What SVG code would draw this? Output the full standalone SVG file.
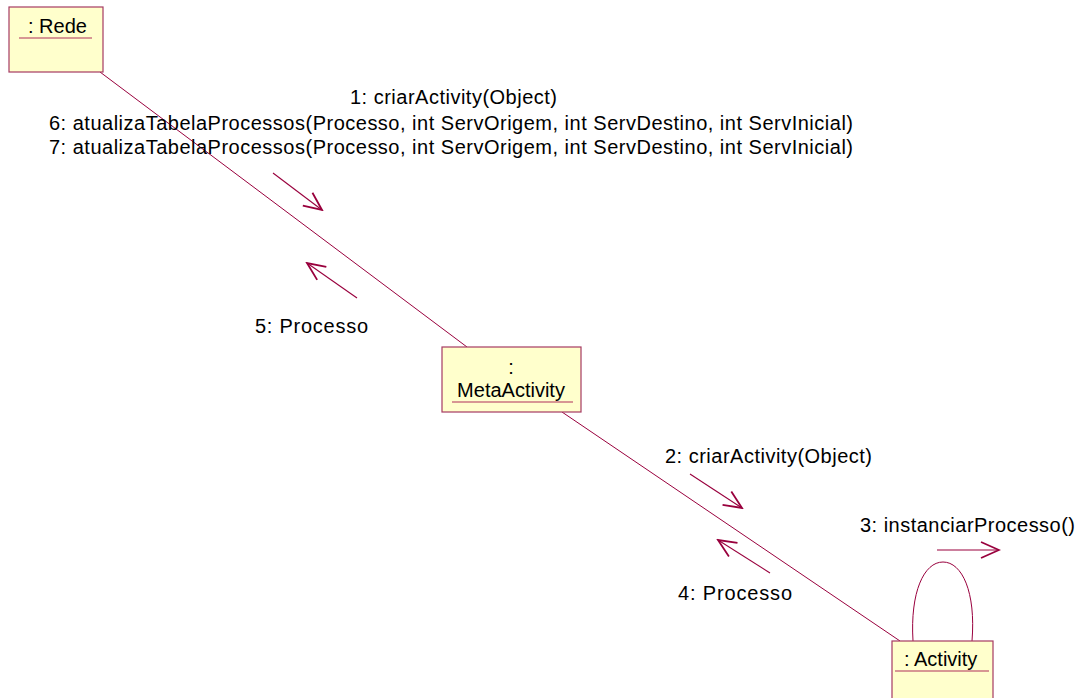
<svg xmlns="http://www.w3.org/2000/svg" width="1087" height="698" viewBox="0 0 1087 698">
  <style>
    .obj { fill: #ffffcc; stroke: #a63a62; stroke-width: 1.2; }
    .uline { stroke: #b0305a; stroke-width: 1.2; }
    .link { stroke: #99003d; stroke-width: 1; fill: none; }
    .msg { stroke: #99003d; stroke-width: 1.1; fill: none; }
    text { font-family: "Liberation Sans", Arial, sans-serif; font-size: 20px; fill: #000; }
  </style>
  <defs>
    <marker id="open" markerUnits="userSpaceOnUse" viewBox="-22 -12 24 24" markerWidth="24" markerHeight="24" refX="0" refY="0" orient="auto">
      <path d="M-18,-8 L0,0 L-18,8" fill="none" stroke="#99003d" stroke-width="1.8"/>
    </marker>
  </defs>

  <rect width="1087" height="698" fill="#ffffff"/>

  <!-- links between objects -->
  <g id="connectors">
    <line class="link" x1="100" y1="72" x2="467" y2="347"/>
    <line class="link" x1="562" y1="412" x2="900" y2="641"/>
    <path class="link" d="M913,641 C910,592 924,562 943,562 C962,562 976,592 972,641"/>
  </g>

  <!-- message arrows -->
  <g id="messages">
    <line class="msg" x1="273" y1="173" x2="322" y2="210" marker-end="url(#open)"/>
    <line class="msg" x1="357" y1="298" x2="307" y2="263" marker-end="url(#open)"/>
    <line class="msg" x1="690" y1="474" x2="742" y2="508" marker-end="url(#open)"/>
    <line class="msg" x1="770" y1="573" x2="718" y2="540" marker-end="url(#open)"/>
    <line class="msg" x1="937" y1="550" x2="999" y2="550" marker-end="url(#open)"/>
  </g>

  <!-- message labels -->
  <g id="labels">
    <text x="350" y="104" textLength="207" lengthAdjust="spacing">1: criarActivity(Object)</text>
    <text x="49" y="130" textLength="804" lengthAdjust="spacing">6: atualizaTabelaProcessos(Processo, int ServOrigem, int ServDestino, int ServInicial)</text>
    <text x="49" y="154" textLength="804" lengthAdjust="spacing">7: atualizaTabelaProcessos(Processo, int ServOrigem, int ServDestino, int ServInicial)</text>
    <text x="255" y="333" textLength="113" lengthAdjust="spacing">5: Processo</text>
    <text x="665" y="463" textLength="207" lengthAdjust="spacing">2: criarActivity(Object)</text>
    <text x="860" y="532" textLength="215" lengthAdjust="spacing">3: instanciarProcesso()</text>
    <text x="678" y="600" textLength="114" lengthAdjust="spacing">4: Processo</text>
  </g>

  <!-- objects -->
  <g id="rede">
    <rect class="obj" x="9" y="7" width="94" height="65"/>
    <text x="28" y="33">: Rede</text>
    <line class="uline" x1="19" y1="38" x2="92" y2="38"/>
  </g>

  <g id="metaactivity">
    <rect class="obj" x="442" y="347" width="139" height="65"/>
    <text x="511" y="374" text-anchor="middle">:</text>
    <text x="511" y="397" text-anchor="middle">MetaActivity</text>
    <line class="uline" x1="452" y1="402" x2="573" y2="402"/>
  </g>

  <g id="activity">
    <rect class="obj" x="892" y="641" width="101" height="70"/>
    <text x="904" y="666">: Activity</text>
    <line class="uline" x1="895" y1="671" x2="989" y2="671"/>
  </g>
</svg>
